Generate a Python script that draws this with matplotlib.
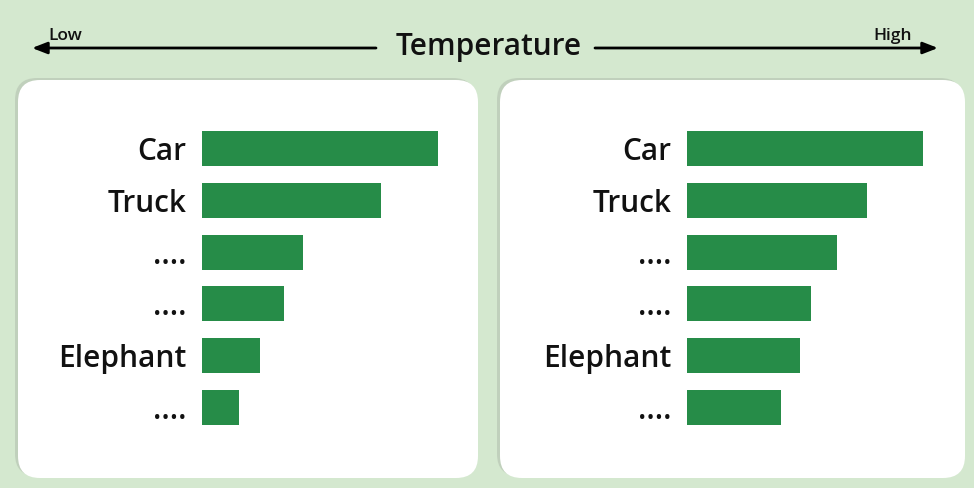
import matplotlib.pyplot as plt
from matplotlib.patches import FancyBboxPatch

# data
labels = ["Car", "Truck", "....", "....", "Elephant", "...."]
low_values = [236, 179, 101, 82, 58, 37]
high_values = [236, 180, 150, 124, 113, 94]

BG = "#d4e8cf"
BAR = "#268c48"
W, H = 974, 488

plt.rcParams["font.family"] = ["Open Sans", "DejaVu Sans"]

fig = plt.figure(figsize=(W / 100, H / 100), dpi=100)
fig.patch.set_facecolor(BG)

# background axes in pixel units (y down)
bg = fig.add_axes([0, 0, 1, 1])
bg.set_xlim(0, W)
bg.set_ylim(H, 0)
bg.axis("off")

# panels with a soft shadow on the top/left
for x0, x1 in [(18, 478), (500, 965)]:
    shadow = FancyBboxPatch((x0 - 3, 78), x1 - x0, 398,
                            boxstyle="round,pad=0,rounding_size=22",
                            fc="#bccbb8", ec="none", alpha=0.8)
    bg.add_patch(shadow)
    panel = FancyBboxPatch((x0, 80), x1 - x0, 398,
                           boxstyle="round,pad=0,rounding_size=22",
                           fc="white", ec="none")
    bg.add_patch(panel)

# title with arrows
bg.text(489, 47, "Temperature", ha="center", va="center",
        fontsize=21.5, fontweight="semibold", color="#111111")
bg.annotate("", xy=(32, 48), xytext=(376, 48),
            arrowprops=dict(arrowstyle="-|>,head_length=0.9,head_width=0.35",
                            lw=2, color="black", shrinkA=0, shrinkB=0))
bg.annotate("", xy=(938, 48), xytext=(595, 48),
            arrowprops=dict(arrowstyle="-|>,head_length=0.9,head_width=0.35",
                            lw=2, color="black", shrinkA=0, shrinkB=0))
bg.text(48, 40, "Low", ha="left", va="baseline", fontsize=12.5,
        fontweight="semibold", color="#111111")
bg.text(912, 40, "High", ha="right", va="baseline", fontsize=12.5,
        fontweight="semibold", color="#111111")


def bar_panel(left_px, values):
    top_px, bot_px = 122.6, 433.4
    ax = fig.add_axes([left_px / W, (H - bot_px) / H, 250 / W, (bot_px - top_px) / H])
    ax.patch.set_alpha(0)
    ax.barh(range(len(values)), values, height=0.675, color=BAR)
    ax.set_xlim(0, 250)
    ax.set_ylim(len(values) - 0.5, -0.5)
    ax.set_yticks(range(len(values)))
    ax.set_yticklabels(labels, fontsize=21.5, fontweight="semibold", color="#111111")
    ax.tick_params(axis="y", length=0, pad=11)
    ax.set_xticks([])
    for s in ax.spines.values():
        s.set_visible(False)
    return ax


bar_panel(202, low_values)
bar_panel(687, high_values)

fig.savefig("out.png", dpi=100, facecolor=BG)
